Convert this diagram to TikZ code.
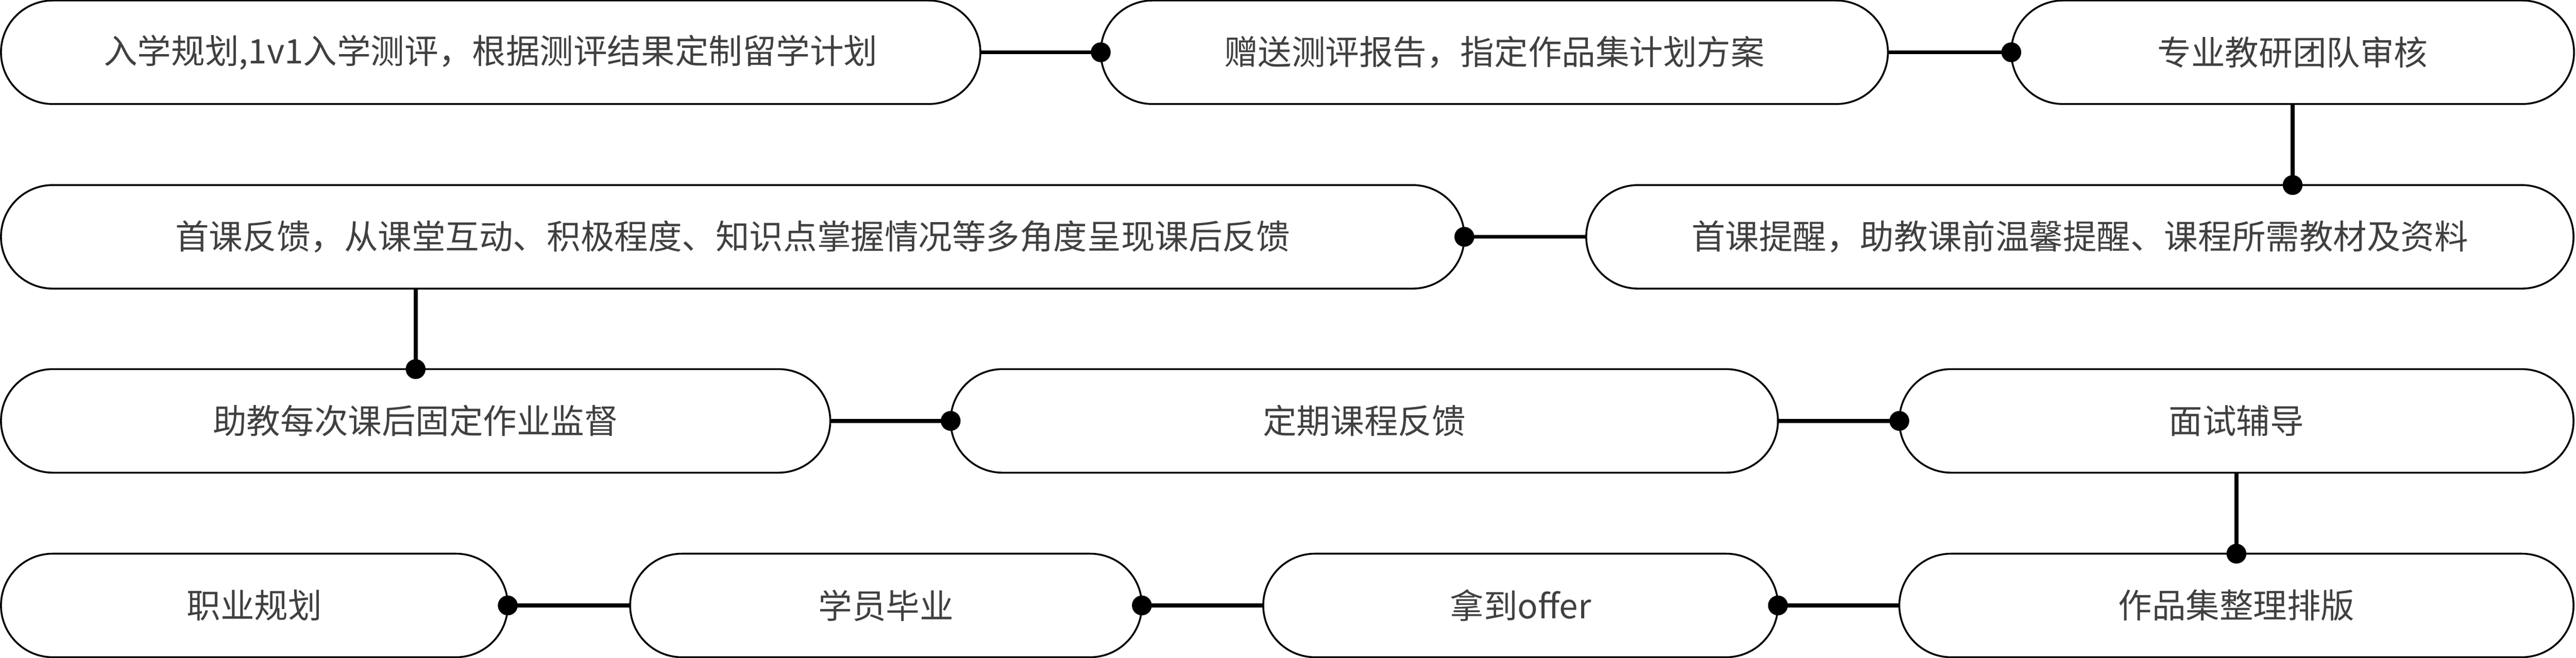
\documentclass[tikz,border=0pt]{standalone}
\usepackage{fontspec}
\setmainfont{Noto Sans CJK SC}
\usepackage{tikz}
\usetikzlibrary{shapes,arrows.meta,calc,positioning}
\definecolor{textGray}{RGB}{64, 64, 64}

\begin{document}
\begin{tikzpicture}[
        stage/.style={draw, line width=0.037cm, rounded corners=1.045cm, minimum height=2.09cm,
                      outer sep=0pt, inner sep=0pt, text=textGray, font=\fontsize{19.4}{23}\selectfont},
        link/.style={line width=0.08cm, -{Circle[length=0.4cm]}, shorten >=-0.2cm}
    ]
    \useasboundingbox (0,0) rectangle (52,-13.28);

    % Row 1
    \node[stage, minimum width=19.77cm] (plan) at (9.905,-1.055) {入学规划,1v1入学测评，根据测评结果定制留学计划};
    \node[stage, minimum width=15.89cm] (report) at (30.165,-1.055) {赠送测评报告，指定作品集计划方案};
    \node[stage, minimum width=11.36cm] (review) at (46.28,-1.055) {专业教研团队审核};

    % Row 2
    \node[stage, minimum width=29.54cm] (feedback) at (14.79,-4.78) {首课反馈，从课堂互动、积极程度、知识点掌握情况等多角度呈现课后反馈};
    \node[stage, minimum width=19.93cm] (reminder) at (41.985,-4.78) {首课提醒，助教课前温馨提醒、课程所需教材及资料};

    % Row 3
    \node[stage, minimum width=16.74cm] (homework) at (8.39,-8.495) {助教每次课后固定作业监督};
    \node[stage, minimum width=16.70cm] (regular) at (27.54,-8.495) {定期课程反馈};
    \node[stage, minimum width=13.61cm] (interview) at (45.145,-8.495) {面试辅导};

    % Row 4
    \node[stage, minimum width=10.23cm] (career) at (5.135,-12.22) {职业规划};
    \node[stage, minimum width=10.33cm] (graduate) at (17.885,-12.22) {学员毕业};
    \node[stage, minimum width=10.39cm] (offer) at (30.695,-12.22) {拿到offer};
    \node[stage, minimum width=13.61cm] (portfolio) at (45.145,-12.22) {作品集整理排版};

    % Horizontal links
    \foreach \a/\b in {plan/report, report/review, homework/regular, regular/interview} {
        \draw[link] (\a.east) -- (\b.west);
    }
    \foreach \a/\b in {reminder/feedback, portfolio/offer, offer/graduate, graduate/career} {
        \draw[link] (\a.west) -- (\b.east);
    }

    % Vertical links
    \draw[link] (review.south) -- (review.south |- reminder.north);
    \draw[link] (homework.north |- feedback.south) -- (homework.north);
    \draw[link] (interview.south) -- (portfolio.north);
\end{tikzpicture}
\end{document}
